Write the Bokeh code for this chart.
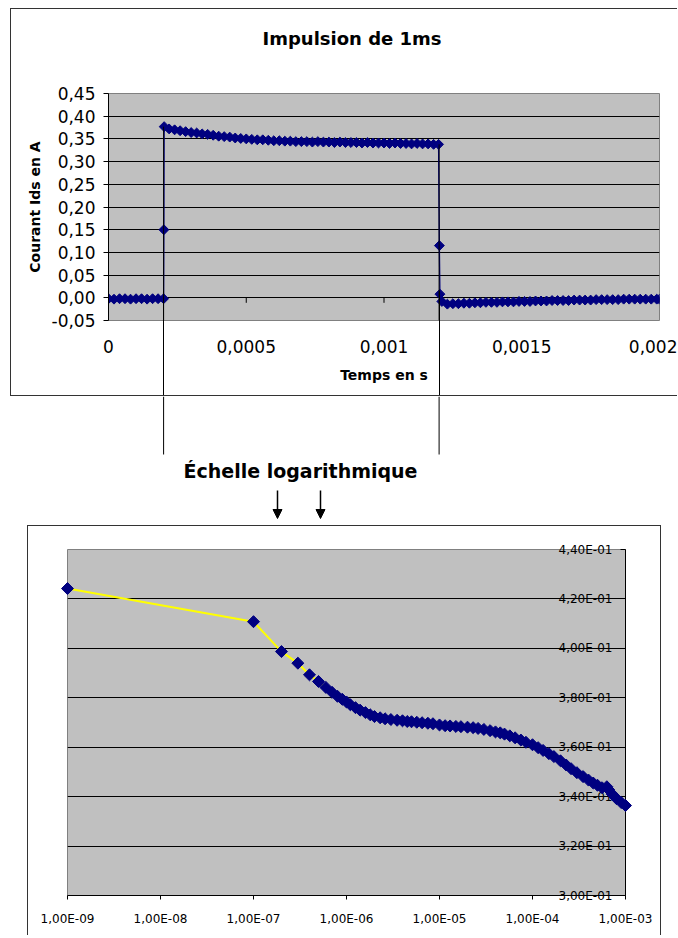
import numpy as np
from bokeh.plotting import figure
from bokeh.models import (Range1d, FixedTicker, CustomJSTickFormatter, Label,
                          Arrow, NormalHead, LinearAxis)
from bokeh.embed import file_html
from bokeh.resources import INLINE

# ---------------- data: pulse (linear time) ----------------
T_US = [0, 20, 40, 60, 80, 100, 120, 140, 160, 180, 200, 201, 202,
        220, 240, 260, 280, 300, 320, 340, 360, 380, 400, 420, 440, 460, 480,
        500, 520, 540, 560, 580, 600, 620, 640, 660, 680, 700, 720, 740, 760,
        780, 800, 820, 840, 860, 880, 900, 920, 940, 960, 980, 1000, 1020,
        1040, 1060, 1080, 1100, 1120, 1140, 1160, 1180, 1198, 1201, 1203,
        1210, 1230, 1250, 1270, 1290, 1310, 1330, 1350, 1370, 1390, 1410,
        1430, 1450, 1470, 1490, 1510, 1530, 1550, 1570, 1590, 1610, 1630,
        1650, 1670, 1690, 1710, 1730, 1750, 1770, 1790, 1810, 1830, 1850,
        1870, 1890, 1910, 1930, 1950, 1970, 1990, 2000]
IDS_A = [-0.002, -0.003, -0.002, -0.002, -0.003, -0.002, -0.002, -0.003,
         -0.002, -0.002, -0.002, 0.150, 0.377,
         0.372, 0.370, 0.368, 0.366, 0.364, 0.363, 0.361, 0.360, 0.358, 0.356,
         0.355, 0.354, 0.352, 0.351, 0.350, 0.349, 0.348, 0.348, 0.347, 0.346,
         0.346, 0.345, 0.345, 0.344, 0.344, 0.344, 0.343, 0.344, 0.343, 0.343,
         0.342, 0.343, 0.342, 0.342, 0.342, 0.341, 0.342, 0.341, 0.341, 0.341,
         0.340, 0.341, 0.340, 0.340, 0.339, 0.340, 0.339, 0.339, 0.338, 0.338,
         0.115, 0.008, -0.008, -0.014, -0.013, -0.013, -0.012, -0.012, -0.011,
         -0.011, -0.010, -0.010, -0.010, -0.009, -0.009, -0.009, -0.008,
         -0.008, -0.008, -0.007, -0.007, -0.007, -0.006, -0.006, -0.006,
         -0.006, -0.005, -0.005, -0.005, -0.005, -0.004, -0.004, -0.004,
         -0.004, -0.004, -0.003, -0.003, -0.003, -0.003, -0.003, -0.003,
         -0.003, -0.003]
EDGE_T_US = [200, 1200]          # pulse edges, joined to the lower chart
EDGE_TOP_A = [0.377, 0.338]

X_TICKS_TOP = [0, 0.0005, 0.001, 0.0015, 0.002]
Y_TICKS_TOP = [-0.05, 0.0, 0.05, 0.10, 0.15, 0.20, 0.25, 0.30, 0.35, 0.40, 0.45]
Y_GRID_TOP = [0.0, 0.05, 0.10, 0.15, 0.20, 0.25, 0.30, 0.35, 0.40]

# ---------------- data: same pulse, log time ----------------
LOG_T = [1e-9, 1e-7, 2e-7, 3e-7, 4e-7, 5e-7, 6e-7, 7e-7, 8e-7, 9e-7,
         1.0e-6, 1.1e-6, 1.25e-6, 1.4e-6, 1.6e-6, 1.8e-6, 2.0e-6, 2.3e-6,
         2.6e-6, 3.0e-6, 3.5e-6, 4.0e-6, 4.5e-6, 5.0e-6, 5.7e-6, 6.5e-6,
         7.5e-6, 8.5e-6, 1.0e-5, 1.15e-5, 1.3e-5, 1.5e-5, 1.7e-5, 2.0e-5,
         2.3e-5, 2.6e-5, 3.0e-5, 3.5e-5, 4.0e-5, 4.5e-5, 5.0e-5, 5.7e-5,
         6.5e-5, 7.5e-5, 8.5e-5, 1.0e-4, 1.15e-4, 1.3e-4, 1.5e-4, 1.7e-4,
         2.0e-4, 2.3e-4, 2.6e-4, 3.0e-4, 3.5e-4, 4.0e-4, 4.5e-4, 5.0e-4,
         5.6e-4, 6.3e-4, 6.6e-4, 7.2e-4, 8.0e-4, 9.0e-4, 1.0e-3]
LOG_I = [0.4242, 0.4108, 0.3987, 0.3940, 0.3893, 0.3866, 0.3842, 0.3822,
         0.3806, 0.3794, 0.3783, 0.3772, 0.3760, 0.3750, 0.3740, 0.3731,
         0.3724, 0.3719, 0.3715, 0.3712, 0.3709, 0.3707, 0.3704, 0.3703,
         0.3701, 0.3699, 0.3697, 0.3695, 0.3690, 0.3687, 0.3686, 0.3684,
         0.3683, 0.3681, 0.3679, 0.3676, 0.3672, 0.3667, 0.3662, 0.3658,
         0.3653, 0.3646, 0.3638, 0.3629, 0.3620, 0.3610, 0.3598, 0.3587,
         0.3574, 0.3562, 0.3545, 0.3528, 0.3513, 0.3497, 0.3481, 0.3467,
         0.3455, 0.3446, 0.3436, 0.3440, 0.3428, 0.3410, 0.3392, 0.3376,
         0.3364]
X_TICKS_LOG = [1e-9, 1e-8, 1e-7, 1e-6, 1e-5, 1e-4, 1e-3]
Y_TICKS_LOG = [0.30, 0.32, 0.34, 0.36, 0.38, 0.40, 0.42, 0.44]
Y_GRID_LOG = [0.32, 0.34, 0.36, 0.38, 0.40, 0.42]

NAVY = "#000080"
GREY = "#C0C0C0"
FONT = "DejaVu Sans"
BOX = "1px solid #333333"

t_s = [v / 1e6 for v in T_US]
edge_t = [v / 1e6 for v in EDGE_T_US]

# ================= top chart =================
pA = figure(width=667, height=388,
            x_range=Range1d(X_TICKS_TOP[0], X_TICKS_TOP[-1]),
            y_range=Range1d(Y_TICKS_TOP[0], Y_TICKS_TOP[-1]),
            output_backend="svg", toolbar_location=None,
            min_border_left=97, min_border_right=19,
            min_border_top=84, min_border_bottom=76,
            background_fill_color=GREY, border_fill_color="white",
            outline_line_color="#808080",
            title="Impulsion de 1ms")
xa = pA.below[0]
ya = pA.left[0]
pA.margin = (8, 0, 0, 10)
pA.styles = {"border-left": BOX, "border-top": BOX, "border-bottom": BOX}
pA.title.align = "left"
pA.title.offset = 154
pA.title.standoff = 10
pA.title.text_font = FONT
pA.title.text_font_size = "18px"
pA.title.text_font_style = "bold"
pA.title.text_color = "black"

pA.xgrid.visible = False
pA.ygrid.ticker = FixedTicker(ticks=Y_GRID_TOP)
pA.ygrid.grid_line_color = "black"

xa.ticker = FixedTicker(ticks=X_TICKS_TOP)
xa.formatter = CustomJSTickFormatter(code="return String(tick).replace('.', ',');")
xa.axis_line_color = None
xa.major_tick_line_color = None
xa.minor_tick_line_color = None
xa.major_tick_out = 0
xa.major_tick_in = 0
xa.major_label_standoff = 19
xa.major_label_text_font = FONT
xa.major_label_text_font_size = "17px"
xa.major_label_text_color = "black"
xa.axis_label = "Temps en s"
xa.axis_label_text_font = FONT
xa.axis_label_text_font_size = "14px"
xa.axis_label_text_font_style = "bold"
xa.axis_label_text_color = "black"
xa.axis_label_standoff = 11

ya.ticker = FixedTicker(ticks=Y_TICKS_TOP)
ya.formatter = CustomJSTickFormatter(code="return tick.toFixed(2).replace('.', ',');")
ya.axis_line_color = "black"
ya.major_tick_line_color = "black"
ya.minor_tick_line_color = None
ya.major_tick_out = 5
ya.major_tick_in = 0
ya.major_label_standoff = 8
ya.major_label_text_font = FONT
ya.major_label_text_font_size = "17px"
ya.major_label_text_color = "black"
ya.axis_label = "Courant Ids en A"
ya.axis_label_text_font = FONT
ya.axis_label_text_font_size = "14px"
ya.axis_label_text_font_style = "bold"
ya.axis_label_text_color = "black"
ya.axis_label_standoff = 6

# invisible spacer between plot area and title
spacer = LinearAxis(ticker=FixedTicker(ticks=[X_TICKS_TOP[0]]),
                    formatter=CustomJSTickFormatter(code="return '';"),
                    axis_line_color=None, major_tick_line_color=None,
                    minor_tick_line_color=None, major_tick_in=0,
                    major_tick_out=40, major_label_standoff=0,
                    major_label_text_font_size="0px")
pA.add_layout(spacer, "above")

# second, label-less axis whose long ticks carry the edge connectors
conn = LinearAxis(ticker=FixedTicker(ticks=edge_t),
                  formatter=CustomJSTickFormatter(code="return '';"),
                  axis_line_color=None, major_tick_line_color="black",
                  minor_tick_line_color=None, major_tick_in=95,
                  major_tick_out=12, major_label_standoff=0,
                  major_label_text_font_size="0px")
pA.add_layout(conn, "below")

# x-axis ticks sitting on the zero line
pA.ray(x=X_TICKS_TOP, y=[0] * len(X_TICKS_TOP), length=5, length_units="screen",
       angle=-np.pi / 2, line_color="black", line_width=1)

pA.line(t_s, IDS_A, line_color=NAVY, line_width=1.3)
pA.scatter(t_s, IDS_A, marker="square", angle=np.pi / 4, size=7,
           fill_color=NAVY, line_color=NAVY)
pA.segment(x0=edge_t, y0=EDGE_TOP_A, x1=edge_t, y1=[Y_TICKS_TOP[0]] * 2,
           line_color="black", line_width=1)

# ================= middle strip =================
pB = figure(width=678, height=129,
            x_range=Range1d(X_TICKS_TOP[0], X_TICKS_TOP[-1]),
            y_range=Range1d(129, 0),
            output_backend="svg", toolbar_location=None,
            x_axis_location=None, y_axis_location=None,
            min_border_left=108, min_border_right=19, min_border_top=0,
            min_border_bottom=0, outline_line_color=None,
            background_fill_color="white", border_fill_color="white")
pB.grid.visible = False
pB.segment(x0=edge_t, y0=[0, 0], x1=edge_t, y1=[58, 58],
           line_color="black", line_width=1)
pB.add_layout(Label(x=300, y=74, x_units="canvas", y_units="canvas",
                    text="Échelle logarithmique", text_align="center",
                    text_baseline="middle", text_font=FONT, text_color="black",
                    text_font_size="19px", text_font_style="bold"))
for ax in (277, 320):
    pB.add_layout(Arrow(x_start=ax, y_start=94, x_end=ax, y_end=122,
                        start_units="canvas", end_units="canvas",
                        line_color="black", line_width=1.5,
                        end=NormalHead(size=9, fill_color="black",
                                       line_color="black")))

# ================= lower chart (log time) =================
pC = figure(width=634, height=410, x_axis_type="log",
            x_range=Range1d(X_TICKS_LOG[0], X_TICKS_LOG[-1]),
            y_range=Range1d(Y_TICKS_LOG[0], Y_TICKS_LOG[-1]),
            y_axis_location="right", output_backend="svg",
            toolbar_location=None, min_border_left=39, min_border_right=37,
            min_border_top=23, min_border_bottom=41,
            background_fill_color=GREY, border_fill_color="white",
            outline_line_color="#808080")
pC.margin = (0, 0, 0, 27)
pC.styles = {"border-left": BOX, "border-top": BOX, "border-right": BOX}
pC.xgrid.visible = False
pC.ygrid.ticker = FixedTicker(ticks=Y_GRID_LOG)
pC.ygrid.grid_line_color = "black"
pC.ygrid.grid_line_width = 1.2

SCI = """
const s = tick.toExponential(2).replace('.', ',');
const p = s.split('e');
const e = parseInt(p[1]);
const a = Math.abs(e);
return p[0] + 'E' + (e < 0 ? '-' : '+') + (a < 10 ? '0' + a : String(a));
"""
xc = pC.below[0]
xc.ticker = FixedTicker(ticks=X_TICKS_LOG)
xc.formatter = CustomJSTickFormatter(code=SCI)
xc.axis_line_color = "black"
xc.major_tick_line_color = "black"
xc.minor_tick_line_color = None
xc.major_tick_out = 4
xc.major_tick_in = 0
xc.major_label_standoff = 12
xc.major_label_text_font = FONT
xc.major_label_text_font_size = "12px"
xc.major_label_text_color = "black"

yc = pC.right[0]
yc.ticker = FixedTicker(ticks=Y_TICKS_LOG)
yc.formatter = CustomJSTickFormatter(code=SCI)
yc.axis_line_color = "black"
yc.major_tick_line_color = "black"
yc.minor_tick_line_color = None
yc.major_tick_out = 0
yc.major_tick_in = 5
yc.major_label_standoff = -67
yc.major_label_text_font = FONT
yc.major_label_text_font_size = "12px"
yc.major_label_text_color = "black"

pC.line(LOG_T, LOG_I, line_color="#FFFF00", line_width=2, level="overlay")
pC.scatter(LOG_T, LOG_I, marker="square", angle=np.pi / 4, size=8.5,
           fill_color=NAVY, line_color=NAVY, level="overlay")

open("out.html", "w").write(file_html([pA, pB, pC], INLINE))
